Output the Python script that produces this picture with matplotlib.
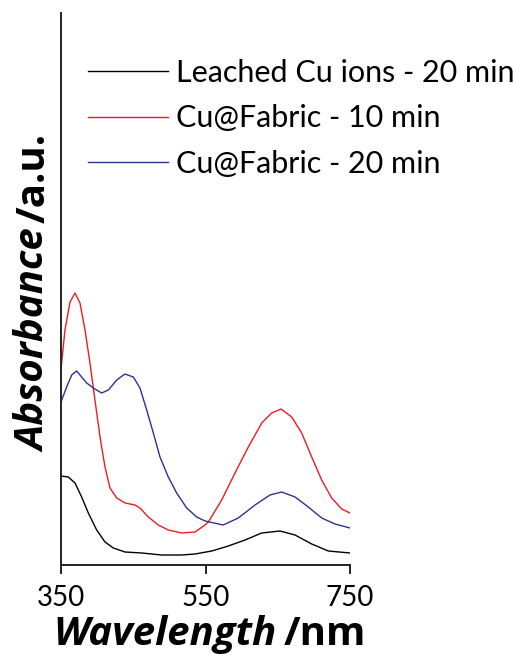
import matplotlib
matplotlib.use("Agg")
import matplotlib.pyplot as plt

FONT = "Lato"
LABFONT = "Open Sans"
plt.rcParams['font.family'] = [FONT, 'DejaVu Sans']

# ---- data (arbitrary absorbance units) ----
wl_red = [350, 355.5, 362.5, 369.4, 376.3, 383.2, 390.1, 397, 404, 410.9, 417.8, 427.1,
          438.6, 452.4, 459.3, 470.8, 484.7, 498.5, 517, 535.5, 549.3, 553.9, 572.4,
          590.8, 609.3, 627.8, 641.6, 654.5, 669.3, 683.1, 697, 710.8, 724.6, 738.5, 750]
abs_red = [1.96, 2.35, 2.63, 2.72, 2.62, 2.35, 2.02, 1.65, 1.28, 0.98, 0.77, 0.67,
           0.62, 0.60, 0.57, 0.48, 0.40, 0.35, 0.32, 0.33, 0.40, 0.43, 0.65,
           0.92, 1.18, 1.42, 1.52, 1.56, 1.48, 1.32, 1.08, 0.85, 0.67, 0.56, 0.52]

wl_blue = [350, 357.8, 364.8, 371.7, 378.6, 385.6, 394.7, 406.3, 415.5, 427.1, 438.6,
           450.1, 459.3, 468.6, 477.8, 487, 498.5, 510.1, 524, 537.8, 549.3, 574.6,
           595.4, 618.5, 639.3, 655.4, 673.9, 692.3, 710.8, 729.2, 750]
abs_blue = [1.63, 1.78, 1.90, 1.94, 1.88, 1.82, 1.77, 1.72, 1.75, 1.85, 1.91,
            1.88, 1.77, 1.55, 1.32, 1.08, 0.88, 0.72, 0.57, 0.48, 0.44, 0.40,
            0.47, 0.60, 0.70, 0.73, 0.68, 0.58, 0.47, 0.41, 0.37]

wl_black = [350, 360.1, 369.4, 378.6, 387.8, 399.4, 410.9, 422.4, 438.6, 461.7, 489.4,
            517, 535.5, 558.6, 581.6, 604.7, 627.8, 653, 673.9, 697, 720, 750]
abs_black = [0.89, 0.88, 0.82, 0.68, 0.52, 0.35, 0.23, 0.17, 0.13, 0.12, 0.10,
             0.10, 0.11, 0.14, 0.19, 0.25, 0.32, 0.34, 0.30, 0.21, 0.14, 0.12]

labels = ["Leached Cu ions - 20 min", "Cu@Fabric - 10 min", "Cu@Fabric - 20 min"]
colors = ["#000000", "#ED1C24", "#2E3192"]
xticks = [350, 550, 750]

W, H = 514, 655
fig = plt.figure(figsize=(W / 100, H / 100), dpi=100)
ax = fig.add_axes([61 / W, 1 - 565 / H, (350 - 61) / W, (565 - 13) / H])

ax.plot(wl_black, abs_black, color=colors[0], lw=1.0, label=labels[0])
ax.plot(wl_red, abs_red, color=colors[1], lw=1.0, label=labels[1])
ax.plot(wl_blue, abs_blue, color=colors[2], lw=1.0, label=labels[2])

ax.set_xlim(350, 750)
ax.set_ylim(0, 5.52)
ax.set_xticks(xticks)
ax.set_xticklabels([str(t) for t in xticks], fontsize=20)
ax.set_yticks([])
for s in ["top", "right"]:
    ax.spines[s].set_visible(False)
for s in ["left", "bottom"]:
    ax.spines[s].set_linewidth(1.4)
    ax.spines[s].set_color("#222222")
ax.tick_params(axis='x', length=6.5, width=1.4, color="#222222", pad=8)

fs_leg = 22
fs_px = fs_leg * 100 / 72
leg = ax.legend(loc="upper left", bbox_to_anchor=(88 / W, 1 - 59 / H),
                bbox_transform=fig.transFigure, frameon=False, fontsize=fs_leg,
                handlelength=80 / fs_px, handletextpad=0.26,
                labelspacing=0.57, borderpad=0, borderaxespad=0)

# axis labels built from two pieces (bold italic + bold)
fs_lab = 29
fig.canvas.draw()
r = fig.canvas.get_renderer()
t1 = fig.text(53 / W, 1 - 645 / H, "Wavelength", fontsize=fs_lab, fontweight="bold",
              fontstyle="italic", ha="left", va="baseline", family=LABFONT)
bb = t1.get_window_extent(r)
fig.text((bb.x1 + 7) / W, 1 - 645 / H, "/nm", fontsize=fs_lab, fontweight="bold",
         ha="left", va="baseline", family=LABFONT)

t2 = fig.text(45 / W, 1 - 452 / H, "Absorbance", fontsize=fs_lab, fontweight="bold",
              fontstyle="italic", ha="left", va="baseline", rotation=90,
              rotation_mode="anchor", family=LABFONT)
bb2 = t2.get_window_extent(r)
fig.text(45 / W, (bb2.y1 + 6) / H, "/a.u.", fontsize=fs_lab, fontweight="bold",
         ha="left", va="baseline", rotation=90, rotation_mode="anchor", family=LABFONT)

fig.savefig("out.png", dpi=100)
